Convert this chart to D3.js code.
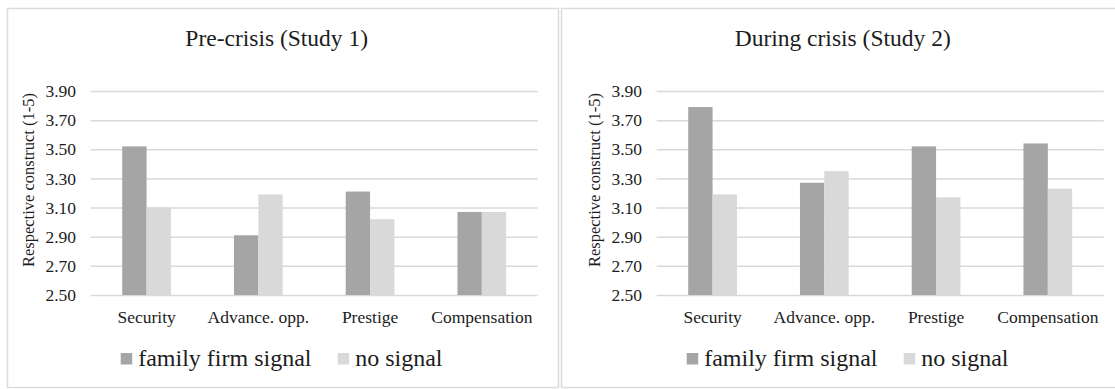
<!DOCTYPE html>
<html>
<head>
<meta charset="utf-8">
<script src="https://cdn.jsdelivr.net/npm/d3@7"></script>
<style>
  html, body { margin: 0; padding: 0; background: #ffffff; }
  svg text { font-family: "Liberation Serif", "DejaVu Serif", "Times New Roman", Times, serif !important; }
</style>
</head>
<body>
<svg id="chart" width="1115" height="389"></svg>
<script>
// Categories, series and tick labels
const categories = ["Security", "Advance. opp.", "Prestige", "Compensation"];
const seriesNames = ["family firm signal", "no signal"];
const panelTitles = ["Pre-crisis (Study 1)", "During crisis (Study 2)"];

// Study 1 means (1-5 scale)
const study1Family = [3.52, 2.91, 3.21, 3.07];
const study1None   = [3.10, 3.19, 3.02, 3.07];
// Study 2 means (1-5 scale)
const study2Family = [3.79, 3.27, 3.52, 3.54];
const study2None   = [3.19, 3.35, 3.17, 3.23];

const yTicks = [2.50, 2.70, 2.90, 3.10, 3.30, 3.50, 3.70, 3.90];
const yLabel = "Respective construct (1-5)";

const colors = ["#a5a5a5", "#d9d9d9"];
const textColor = "#1c1c1c";
const gridColor = "#d9d9d9";
const serif = '"Liberation Serif", "DejaVu Serif", "Times New Roman", Times, serif';

const panels = [
  { title: panelTitles[0], values: [study1Family, study1None], ox: 0 },
  { title: panelTitles[1], values: [study2Family, study2None], ox: 566 }
];

const svg = d3.select("#chart").attr("font-family", serif);

// Panel frames
const frame = svg.append("g").attr("fill", "none").attr("stroke", "#dcdcdc").attr("stroke-width", 1.5);
frame.append("rect").attr("x", 7.5).attr("y", 8.5).attr("width", 551).attr("height", 379);
frame.append("rect").attr("x", 561.5).attr("y", 8.5).attr("width", 600).attr("height", 379);

const plotTop = 91, plotBottom = 295, plotWidth = 447;

panels.forEach(p => {
  const left = p.ox + 90.7;
  const g = svg.append("g");

  const x = d3.scaleBand()
    .domain(categories)
    .range([left, left + plotWidth])
    .paddingInner(0.564)
    .paddingOuter(0.282);

  const xs = d3.scaleBand()
    .domain(seriesNames)
    .range([0, x.bandwidth()])
    .padding(0);

  const y = d3.scaleLinear().domain([2.5, 3.9]).range([plotBottom, plotTop]);

  // Gridlines
  g.append("g")
    .attr("transform", `translate(${left},0)`)
    .call(d3.axisLeft(y).tickValues(yTicks).tickSize(-plotWidth).tickFormat(""))
    .call(a => a.select(".domain").remove())
    .call(a => a.selectAll("line").attr("stroke", gridColor).attr("stroke-width", 1.5));

  // Y tick labels
  g.append("g")
    .attr("transform", `translate(${p.ox + 76},0)`)
    .call(d3.axisLeft(y).tickValues(yTicks).tickSize(0).tickPadding(0).tickFormat(d3.format(".2f")))
    .attr("font-family", serif)
    .call(a => a.select(".domain").remove())
    .call(a => a.selectAll("text")
      .attr("fill", textColor)
      .style("font-size", "17.5px"));

  // Y axis title
  g.append("text")
    .attr("transform", `translate(${p.ox + 30.5},${180}) rotate(-90)`)
    .attr("text-anchor", "middle")
    .attr("dominant-baseline", "middle")
    .attr("fill", textColor)
    .style("font-size", "16.5px")
    .text(yLabel);

  // Bars
  const rows = categories.map((c, i) => ({ c, vals: seriesNames.map((s, k) => ({ s, v: p.values[k][i] })) }));
  g.append("g")
    .selectAll("g")
    .data(rows)
    .join("g")
    .attr("transform", d => `translate(${x(d.c)},0)`)
    .selectAll("rect")
    .data(d => d.vals)
    .join("rect")
    .attr("x", d => xs(d.s))
    .attr("width", xs.bandwidth())
    .attr("y", d => y(d.v))
    .attr("height", d => y(2.5) - y(d.v))
    .attr("fill", (d, k) => colors[k]);

  // Category labels
  g.append("g")
    .attr("transform", `translate(0,${plotBottom})`)
    .call(d3.axisBottom(x).tickSize(0).tickPadding(0))
    .attr("font-family", serif)
    .call(a => a.select(".domain").remove())
    .call(a => a.selectAll("text")
      .attr("dy", null)
      .attr("y", 28)
      .attr("fill", textColor)
      .style("font-size", "17.5px"));

  // Title
  g.append("text")
    .attr("x", p.ox + 276.7)
    .attr("y", 46)
    .attr("text-anchor", "middle")
    .attr("fill", textColor)
    .style("font-size", "23.5px")
    .text(p.title);

  // Legend
  const legendX = [p.ox + 120.7, p.ox + 337.7];
  seriesNames.forEach((s, k) => {
    g.append("rect")
      .attr("x", legendX[k]).attr("y", 353)
      .attr("width", 11.5).attr("height", 11.5)
      .attr("fill", colors[k]);
    g.append("text")
      .attr("x", legendX[k] + 17.5)
      .attr("y", 365.5)
      .attr("fill", textColor)
      .style("font-size", "24px")
      .text(s);
  });
});
</script>
</body>
</html>
